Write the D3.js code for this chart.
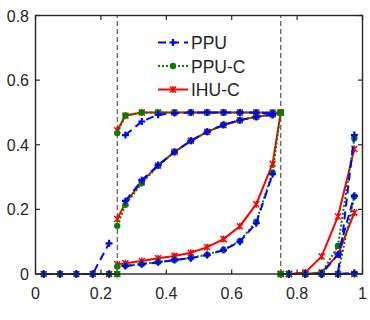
<!DOCTYPE html>
<html>
<head>
<meta charset="utf-8">
<script src="https://cdn.jsdelivr.net/npm/d3@7"></script>
<style>
  body { margin: 0; background: #fff; }
  svg text { font-family: "Liberation Sans", Arial, Helvetica, sans-serif; fill: #262626; }
</style>
</head>
<body>
<svg id="chart" width="370" height="320"></svg>
<script>
  // cell centres, split where the solution jumps (x = 0.25 and x = 0.75)
  var xLeft = [0.025, 0.075, 0.125, 0.175, 0.225, 0.25];
  var xMid = [0.25, 0.275, 0.325, 0.375, 0.425, 0.475, 0.525, 0.575, 0.625, 0.675, 0.725, 0.75];
  var xRight = [0.75, 0.775, 0.825, 0.875, 0.925, 0.975];

  var xTicks = [0, 0.2, 0.4, 0.6, 0.8, 1];
  var yTicks = [0, 0.2, 0.4, 0.6, 0.8];
  var jumpLines = [0.25, 0.75];
  var seriesNames = ["PPU", "PPU-C", "IHU-C"];

  // PPU has no values on the jump points themselves
  var ppuLeft = [[0, 0, 0, 0, 0.095, null], [0, 0, 0, 0, 0, null]];
  var ppuMid = [
    [null, 0.43, 0.472, 0.493, 0.498, 0.5, 0.5, 0.5, 0.5, 0.499, 0.496, null],
    [null, 0.226, 0.29, 0.337, 0.378, 0.412, 0.44, 0.462, 0.476, 0.486, 0.492, null],
    [null, 0.025, 0.03, 0.036, 0.043, 0.049, 0.059, 0.074, 0.1, 0.157, 0.309, null]
  ];
  var ppuRight = [
    [null, 0, 0, 0, 0, 0.43],
    [null, 0, 0, 0, 0.061, 0.242],
    [null, 0, 0, 0, 0, 0.004]
  ];

  var ppucLeft = [[0, 0, 0, 0, 0, 0]];
  var ppucMid = [
    [0.436, 0.491, 0.5, 0.5, 0.5, 0.5, 0.5, 0.5, 0.5, 0.5, 0.5, 0.5],
    [0.149, 0.214, 0.281, 0.335, 0.377, 0.412, 0.44, 0.461, 0.476, 0.487, 0.494, 0.5],
    [0.023, 0.026, 0.031, 0.037, 0.043, 0.05, 0.06, 0.075, 0.102, 0.162, 0.314, 0.5]
  ];
  var ppucRight = [
    [0, 0, 0, 0.003, 0.087, 0.42],
    [0, 0, 0, 0, 0, 0.24],
    [0, 0, 0, 0, 0, 0]
  ];

  var ihucLeft = [[0, 0, 0, 0, 0, 0]];
  var ihucMid = [
    [0.445, 0.49, 0.5, 0.5, 0.5, 0.5, 0.5, 0.5, 0.5, 0.5, 0.5, 0.5],
    [0.17, 0.22, 0.286, 0.336, 0.378, 0.412, 0.44, 0.461, 0.476, 0.487, 0.494, 0.5],
    [0.03, 0.033, 0.04, 0.049, 0.056, 0.066, 0.083, 0.108, 0.148, 0.216, 0.341, 0.5]
  ];
  var ihucRight = [
    [0, 0, 0.005, 0.054, 0.178, 0.387],
    [0, 0, 0, 0.005, 0.06, 0.19],
    [0, 0, 0, 0, 0, 0]
  ];

  var styles = {
    "PPU":   { color: "#0000ff", dash: "8,5", marker: "plus" },
    "PPU-C": { color: "#008000", dash: "2,2", marker: "dot" },
    "IHU-C": { color: "#ff0000", dash: null, marker: "star" }
  };

  var segments = {
    "PPU":   [[xLeft, ppuLeft], [xMid, ppuMid], [xRight, ppuRight]],
    "PPU-C": [[xLeft, ppucLeft], [xMid, ppucMid], [xRight, ppucRight]],
    "IHU-C": [[xLeft, ihucLeft], [xMid, ihucMid], [xRight, ihucRight]]
  };

  var svg = d3.select("#chart");
  var x = d3.scaleLinear().domain([0, 1]).range([35.5, 362.5]);
  var y = d3.scaleLinear().domain([0, 0.8]).range([274, 15.5]);
  var fmt = d3.format("~g");
  var axisColor = "#262626";

  function draw_marker(g, kind, color, cx, cy) {
    if (kind === "plus") {
      g.append("path")
        .attr("d", "M" + (cx - 3.5) + "," + cy + "H" + (cx + 3.5) + "M" + cx + "," + (cy - 3.5) + "V" + (cy + 3.5))
        .attr("stroke", color).attr("stroke-width", 2.2).attr("fill", "none");
    }
    else if (kind === "dot") {
      g.append("circle").attr("cx", cx).attr("cy", cy).attr("r", 3.2).attr("fill", color);
    }
    else {
      var s = 3;
      g.append("path")
        .attr("d", "M" + (cx - s) + "," + (cy - s) + "L" + (cx + s) + "," + (cy + s) +
                   "M" + (cx - s) + "," + (cy + s) + "L" + (cx + s) + "," + (cy - s) +
                   "M" + cx + "," + (cy - s - 0.5) + "V" + (cy + s + 0.5))
        .attr("stroke", color).attr("stroke-width", 1.5).attr("fill", "none");
    }
  }

  // dashed lines at the jump positions
  svg.selectAll("line.jump").data(jumpLines).enter().append("line")
    .attr("class", "jump")
    .attr("x1", function(d) { return x(d); }).attr("x2", function(d) { return x(d); })
    .attr("y1", y(0)).attr("y2", y(0.8))
    .attr("stroke", "#000").attr("stroke-width", 0.8).attr("stroke-dasharray", "5,3");

  var line = d3.line()
    .defined(function(d) { return d[1] !== null; })
    .x(function(d) { return x(d[0]); })
    .y(function(d) { return y(d[1]); });

  // red first, then green, blue on top
  ["IHU-C", "PPU-C", "PPU"].forEach(function(name) {
    var st = styles[name];
    var g = svg.append("g").attr("class", "series");
    segments[name].forEach(function(seg) {
      var xs = seg[0];
      seg[1].forEach(function(vals) {
        var pts = xs.map(function(xv, i) { return [xv, vals[i]]; });
        g.append("path")
          .attr("d", line(pts))
          .attr("fill", "none")
          .attr("stroke", st.color)
          .attr("stroke-width", 2)
          .attr("stroke-dasharray", st.dash);
        pts.forEach(function(p) {
          if (p[1] !== null) draw_marker(g, st.marker, st.color, x(p[0]), y(p[1]));
        });
      });
    });
  });

  // box and inward ticks on all four sides
  svg.append("rect")
    .attr("x", x(0)).attr("y", y(0.8))
    .attr("width", x(1) - x(0)).attr("height", y(0) - y(0.8))
    .attr("fill", "none").attr("stroke", axisColor).attr("stroke-width", 1.4);

  xTicks.forEach(function(t) {
    svg.append("line").attr("x1", x(t)).attr("x2", x(t)).attr("y1", y(0)).attr("y2", y(0) - 4.5)
      .attr("stroke", axisColor).attr("stroke-width", 1.2);
    svg.append("line").attr("x1", x(t)).attr("x2", x(t)).attr("y1", y(0.8)).attr("y2", y(0.8) + 4.5)
      .attr("stroke", axisColor).attr("stroke-width", 1.2);
    svg.append("text").attr("x", x(t)).attr("y", 299)
      .attr("text-anchor", "middle").attr("font-size", 16).text(fmt(t));
  });

  yTicks.forEach(function(t) {
    svg.append("line").attr("x1", x(0)).attr("x2", x(0) + 4.5).attr("y1", y(t)).attr("y2", y(t))
      .attr("stroke", axisColor).attr("stroke-width", 1.2);
    svg.append("line").attr("x1", x(1)).attr("x2", x(1) - 4.5).attr("y1", y(t)).attr("y2", y(t))
      .attr("stroke", axisColor).attr("stroke-width", 1.2);
    svg.append("text").attr("x", 29).attr("y", y(t) + 6)
      .attr("text-anchor", "end").attr("font-size", 16).text(fmt(t));
  });

  // legend, no box
  var legend = svg.append("g").attr("class", "legend");
  seriesNames.forEach(function(name, i) {
    var st = styles[name];
    var ly = 42.5 + i * 23.5;
    legend.append("line").attr("x1", 158).attr("x2", 188).attr("y1", ly).attr("y2", ly)
      .attr("stroke", st.color).attr("stroke-width", 2).attr("stroke-dasharray", st.dash);
    draw_marker(legend, st.marker, st.color, 173, ly);
    legend.append("text").attr("x", 191).attr("y", ly + 6.5)
      .attr("font-size", 17.5).text(name);
  });
</script>
</body>
</html>
